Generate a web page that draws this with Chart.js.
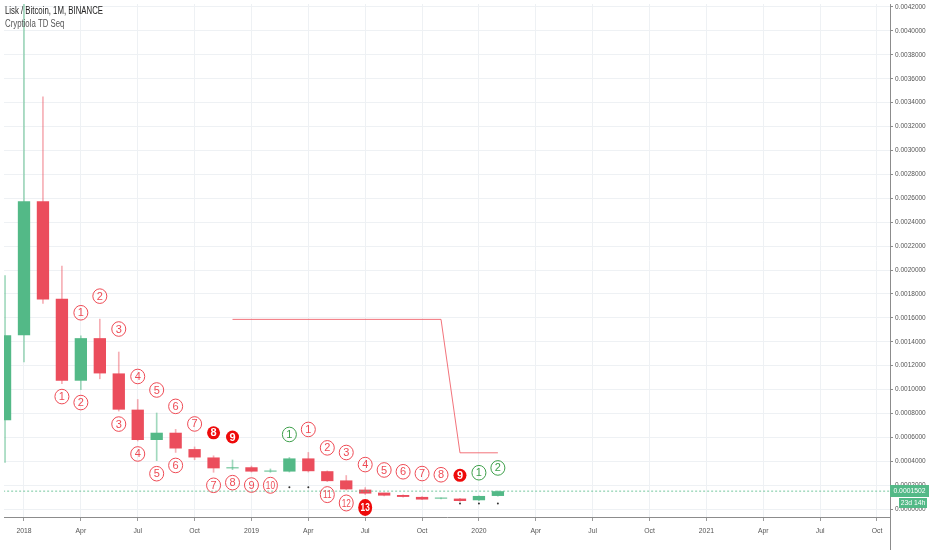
<!DOCTYPE html>
<html>
<head>
<meta charset="utf-8">
<title>Lisk / Bitcoin, 1M, BINANCE</title>
<script src="https://cdn.jsdelivr.net/npm/chart.js@4.4.1/dist/chart.umd.min.js"></script>
<style>
  html, body { margin: 0; padding: 0; background: #fff; }
  #wrap { width: 932px; height: 550px; }
</style>
</head>
<body>
<div id="wrap"><canvas id="chart" width="932" height="550"></canvas></div>
<script>
// Monthly LSK/BTC candles. Month numbers count from Jan 2018 (Dec 2017 = -1).
const months = [-1, 0, 1, 2, 3, 4, 5, 6, 7, 8, 9, 10, 11, 12, 13, 14, 15, 16, 17, 18, 19, 20, 21, 22, 23, 24, 25];
const opens  = [0.000744, 0.001455, 0.002575, 0.001760, 0.001074, 0.001430, 0.001135, 0.000832, 0.000578, 0.000639,
                0.000502, 0.000432, 0.000341, 0.000350, 0.000314, 0.000314, 0.000424, 0.000317, 0.000240, 0.000163,
                0.000138, 0.000118, 0.000102, 0.000088, 0.000088, 0.000074, 0.000110];
const closes = [0.001455, 0.002575, 0.001754, 0.001074, 0.001430, 0.001135, 0.000832, 0.000578, 0.000639, 0.000507,
                0.000432, 0.000341, 0.000346, 0.000314, 0.000318, 0.000424, 0.000317, 0.000234, 0.000165, 0.000130,
                0.000113, 0.000102, 0.000080, 0.000092, 0.000068, 0.000110, 0.000150];
const highs  = [0.001953, 0.004300, 0.003449, 0.002033, 0.001450, 0.001589, 0.001314, 0.000917, 0.000804, 0.000667,
                0.000520, 0.000446, 0.000411, 0.000360, 0.000336, 0.000432, 0.000474, 0.000320, 0.000281, 0.000180,
                0.000135, 0.000120, 0.000105, 0.000095, 0.000090, 0.000112, 0.000152];
const lows   = [0.000391, 0.001231, 0.001720, 0.001050, 0.001000, 0.001090, 0.000820, 0.000570, 0.000405, 0.000474,
                0.000413, 0.000308, 0.000330, 0.000310, 0.000308, 0.000310, 0.000310, 0.000230, 0.000160, 0.000122,
                0.000110, 0.000100, 0.000078, 0.000085, 0.000064, 0.000070, 0.000108];

// TD Sequential counts: 'r' red ring, 'R' solid red, 'g' green ring
const upperCounts = [null, null, null, null, 1, 2, 3, 4, 5, 6, 7, 8, 9, null, null, 1, 1, 2, 3, 4, 5, 6, 7, 8, 9, 1, 2];
const upperKinds  = ['', '', '', '', 'r', 'r', 'r', 'r', 'r', 'r', 'r', 'R', 'R', '', '', 'g', 'r', 'r', 'r', 'r', 'r', 'r', 'r', 'r', 'R', 'g', 'g'];
const lowerCounts = [null, null, null, 1, 2, null, 3, 4, 5, 6, null, 7, 8, 9, 10, null, null, 11, 12, 13, null, null, null, null, null, null, null];
const lowerKinds  = ['', '', '', 'r', 'r', '', 'r', 'r', 'r', 'r', '', 'r', 'r', 'r', 'r', '', '', 'r', 'r', 'R', '', '', '', '', '', '', ''];

// small markers under some bars
const dotMonths = [14, 15, 23, 24, 25];
const dotValues = [0.000182, 0.000182, 0.000046, 0.000046, 0.000046];

// TDST resistance line
const tdstMonths = [11, 22, 23, 25];
const tdstValues = [0.001587, 0.001587, 0.000471, 0.000471];

const lastPrice = 0.0001502;
const countdownText = '23d 14h';

const xTickValues = [0, 3, 6, 9, 12, 15, 18, 21, 24, 27, 30, 33, 36, 39, 42, 45];
const xTickLabels = ['2018', 'Apr', 'Jul', 'Oct', '2019', 'Apr', 'Jul', 'Oct', '2020', 'Apr', 'Jul', 'Oct', '2021', 'Apr', 'Jul', 'Oct'];

const UP = '#53b987';
const DOWN = '#eb4d5c';
const FONT = "'Liberation Sans', Arial, sans-serif";

const isUp = months.map((m, i) => closes[i] >= opens[i]);

function drawCount(ctx, x, y, n, kind) {
    const two = n >= 10;
    if (kind === 'R') {
        ctx.fillStyle = '#ee0a0a';
        ctx.beginPath();
        ctx.ellipse(x, y, two ? 7 : 6.5, two ? 8.5 : 6.5, 0, 0, Math.PI * 2);
        ctx.fill();
        ctx.fillStyle = '#fff';
        ctx.font = 'bold 11px ' + FONT;
    } else {
        const c = kind === 'g' ? '#3d9f4a' : '#ee4b55';
        ctx.strokeStyle = c;
        ctx.lineWidth = 1;
        ctx.beginPath();
        ctx.ellipse(x, y, 7, two ? 8 : 7.3, 0, 0, Math.PI * 2);
        ctx.stroke();
        ctx.fillStyle = c;
        ctx.font = '11px ' + FONT;
    }
    // squeeze two-digit counts so they stay inside the ring
    ctx.save();
    ctx.translate(x, y + 0.5);
    ctx.scale(two ? 0.75 : 1, 1);
    ctx.fillText(String(n), 0, 0);
    ctx.restore();
}

const overlay = {
    id: 'overlay',
    afterDatasetsDraw(chart) {
        const ctx = chart.ctx;
        const xs = chart.scales.x;
        const ys = chart.scales.y;
        ctx.save();
        ctx.textAlign = 'center';
        ctx.textBaseline = 'middle';
        months.forEach((m, i) => {
            const x = xs.getPixelForValue(m);
            if (upperCounts[i] != null) drawCount(ctx, x, ys.getPixelForValue(highs[i]) - 23, upperCounts[i], upperKinds[i]);
            if (lowerCounts[i] != null) drawCount(ctx, x, ys.getPixelForValue(lows[i]) + 13, lowerCounts[i], lowerKinds[i]);
        });
        ctx.restore();
    },
    afterDraw(chart) {
        const ctx = chart.ctx;
        const area = chart.chartArea;
        const ys = chart.scales.y;
        ctx.save();

        // title block, slightly condensed like the original
        ctx.textAlign = 'left';
        ctx.textBaseline = 'middle';
        ctx.font = '10px ' + FONT;
        ctx.save();
        ctx.scale(0.78, 1);
        ctx.fillStyle = '#222';
        ctx.fillText('Lisk / Bitcoin, 1M, BINANCE', 5 / 0.78, 11);
        ctx.fillStyle = '#555';
        ctx.fillText('Cryptiola TD Seq', 5 / 0.78, 24);
        ctx.restore();

        // price axis line runs down through the time axis
        ctx.strokeStyle = '#8c8c8c';
        ctx.lineWidth = 1;
        ctx.beginPath();
        ctx.moveTo(area.right + 0.5, area.bottom);
        ctx.lineTo(area.right + 0.5, chart.height);
        ctx.stroke();

        // last price label + countdown
        const py = Math.round(ys.getPixelForValue(lastPrice));
        ctx.fillStyle = UP;
        ctx.fillRect(area.right, py - 6, 39, 12);
        ctx.fillRect(area.right + 9, py + 7, 28, 10);
        ctx.fillStyle = '#fff';
        ctx.textAlign = 'center';
        ctx.font = '6.8px ' + FONT;
        ctx.fillText(lastPrice.toFixed(7), area.right + 19.5, py + 0.5);
        ctx.fillText(countdownText, area.right + 23, py + 12.5);
        ctx.restore();
    }
};

new Chart(document.getElementById('chart'), {
    type: 'bar',
    data: {
        datasets: [
            {
                type: 'line',
                data: tdstMonths.map((m, i) => ({ x: m, y: tdstValues[i] })),
                borderColor: 'rgba(240, 90, 100, 0.85)',
                borderWidth: 1,
                pointRadius: 0,
                tension: 0,
            },
            {
                type: 'line',
                data: [{ x: -3, y: lastPrice }, { x: 48, y: lastPrice }],
                borderColor: 'rgba(83, 185, 135, 0.8)',
                borderWidth: 1,
                borderDash: [2, 2],
                pointRadius: 0,
            },
            {
                type: 'scatter',
                data: dotMonths.map((m, i) => ({ x: m, y: dotValues[i] })),
                backgroundColor: '#333',
                borderWidth: 0,
                pointRadius: 1,
            },
            {
                label: 'body',
                data: months.map((m, i) => ({ x: m, y: [opens[i], closes[i]] })),
                backgroundColor: isUp.map((u) => (u ? UP : DOWN)),
                grouped: false,
                categoryPercentage: 1,
                barPercentage: 0.65,
                minBarLength: 1,
            },
            {
                label: 'wick',
                data: months.map((m, i) => ({ x: m, y: [lows[i], highs[i]] })),
                backgroundColor: isUp.map((u) => (u ? 'rgba(83,185,135,0.55)' : 'rgba(235,77,92,0.45)')),
                grouped: false,
                barThickness: 1,
            },
        ],
    },
    options: {
        responsive: false,
        animation: false,
        events: [],
        layout: { padding: 0 },
        plugins: {
            legend: { display: false },
            tooltip: { enabled: false },
        },
        scales: {
            x: {
                type: 'linear',
                position: 'bottom',
                offset: false,
                min: -1.055,
                max: 45.686,
                afterBuildTicks: (axis) => {
                    axis.ticks = xTickValues.map((v) => ({ value: v }));
                },
                afterFit: (axis) => {
                    axis.height = 33;
                    axis.paddingLeft = 0;
                    axis.paddingRight = 0;
                },
                grid: { offset: false, color: '#eef1f4', tickColor: '#9a9a9a', tickLength: 4 },
                border: { color: '#8c8c8c' },
                ticks: {
                    autoSkip: false,
                    maxRotation: 0,
                    padding: 6,
                    color: '#555',
                    font: { family: FONT, size: 6.8 },
                    callback: (v, i) => xTickLabels[i],
                },
            },
            y: {
                type: 'linear',
                position: 'right',
                min: -0.000066,
                max: 0.004225,
                afterFit: (axis) => {
                    axis.width = 42;
                    axis.paddingTop = 0;
                    axis.paddingBottom = 0;
                },
                grid: { color: '#eef1f4', tickColor: '#8c8c8c', tickLength: 3 },
                border: { color: '#8c8c8c' },
                ticks: {
                    stepSize: 0.0002,
                    includeBounds: false,
                    padding: 2,
                    color: '#555',
                    font: { family: FONT, size: 6.5 },
                    callback: (v) => (Math.abs(v) < 1e-12 ? '0.0000000' : v.toFixed(7)),
                },
            },
        },
    },
    plugins: [overlay],
});
</script>
</body>
</html>
